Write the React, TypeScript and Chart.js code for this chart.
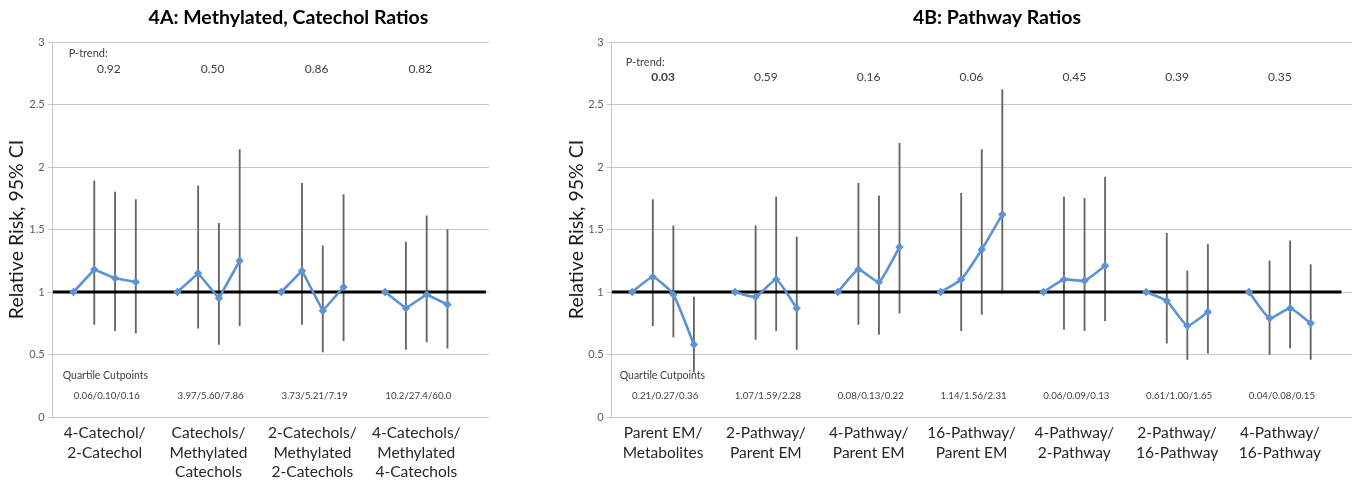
import React, { useEffect, useRef } from "react";
import { Chart, registerables } from "chart.js";

Chart.register(...registerables);

// ---------- DATA ----------
const catsA = [
  ["4-Catechol/", "2-Catechol"],
  ["Catechols/", "Methylated", "Catechols"],
  ["2-Catechols/", "Methylated", "2-Catechols"],
  ["4-Catechols/", "Methylated", "4-Catechols"],
];
const rrA = [1, 1.18, 1.11, 1.08, 1, 1.15, 0.95, 1.25, 1, 1.17, 0.85, 1.04, 1, 0.87, 0.98, 0.9];
const lowA = [null, 0.74, 0.69, 0.67, null, 0.71, 0.58, 0.73, null, 0.74, 0.52, 0.61, null, 0.54, 0.6, 0.55];
const highA = [null, 1.89, 1.8, 1.74, null, 1.85, 1.55, 2.14, null, 1.87, 1.37, 1.78, null, 1.4, 1.61, 1.5];
const pTrendA = ["0.92", "0.50", "0.86", "0.82"];
const pBoldA = [false, false, false, false];
const cutA = ["0.06/0.10/0.16", "3.97/5.60/7.86", "3.73/5.21/7.19", "10.2/27.4/60.0"];

const catsB = [
  ["Parent EM/", "Metabolites"],
  ["2-Pathway/", "Parent EM"],
  ["4-Pathway/", "Parent EM"],
  ["16-Pathway/", "Parent EM"],
  ["4-Pathway/", "2-Pathway"],
  ["2-Pathway/", "16-Pathway"],
  ["4-Pathway/", "16-Pathway"],
];
const rrB = [
  1, 1.12, 0.98, 0.58,
  1, 0.96, 1.1, 0.87,
  1, 1.18, 1.08, 1.36,
  1, 1.1, 1.34, 1.62,
  1, 1.1, 1.09, 1.21,
  1, 0.93, 0.73, 0.84,
  1, 0.79, 0.87, 0.75,
];
const lowB = [
  null, 0.73, 0.64, 0.36,
  null, 0.62, 0.69, 0.54,
  null, 0.74, 0.66, 0.83,
  null, 0.69, 0.82, 0.99,
  null, 0.7, 0.69, 0.77,
  null, 0.59, 0.46, 0.51,
  null, 0.5, 0.55, 0.46,
];
const highB = [
  null, 1.74, 1.53, 0.96,
  null, 1.53, 1.76, 1.44,
  null, 1.87, 1.77, 2.19,
  null, 1.79, 2.14, 2.62,
  null, 1.76, 1.75, 1.92,
  null, 1.47, 1.17, 1.38,
  null, 1.25, 1.41, 1.22,
];
const pTrendB = ["0.03", "0.59", "0.16", "0.06", "0.45", "0.39", "0.35"];
const pBoldB = [true, false, false, false, false, false, false];
const cutB = [
  "0.21/0.27/0.36",
  "1.07/1.59/2.28",
  "0.08/0.13/0.22",
  "1.14/1.56/2.31",
  "0.06/0.09/0.13",
  "0.61/1.00/1.65",
  "0.04/0.08/0.15",
];

const yMin = 0;
const yMax = 3;
const yStep = 0.5;
const refValue = 1;
const pointsPerGroup = 4;
const slotsPerGroup = 5;

const FONT = "Lato, 'Open Sans', 'Liberation Sans', sans-serif";
const BLUE = "#5B93D5";
const GRID = "#c6c6c6";
const CI = "#666666";
const TXT = "#404040";

type Spec = {
  title: string;
  titleX: number;
  cats: string[][];
  rr: number[];
  low: (number | null)[];
  high: (number | null)[];
  pTrend: string[];
  pBold: boolean[];
  cut: string[];
  refEnd: number;
  padLeft: number;
  padRight: number;
  yWidth: number;
  pLabelDX: number;
  pLabelY: number;
  pValY: number;
  pValDX: number;
  qLabelDX: number;
  tension: number;
};

function xOf(i: number) {
  const g = Math.floor(i / pointsPerGroup);
  return g * slotsPerGroup + (i % pointsPerGroup) + 1;
}

function ChartPanel({ spec, left, width }: { spec: Spec; left: number; width: number }) {
  const ref = useRef<HTMLCanvasElement | null>(null);
  useEffect(() => {
    const nGroups = spec.cats.length;
    const xMax = nGroups * slotsPerGroup + 1;
    const linePts: any[] = [];
    spec.rr.forEach((v, i) => {
      linePts.push({ x: xOf(i), y: v });
      if (i % pointsPerGroup === pointsPerGroup - 1 && i < spec.rr.length - 1) {
        linePts.push({ x: xOf(i) + 1, y: null });
      }
    });
    const ciPts: any[] = [];
    spec.low.forEach((lo, i) => {
      const hi = spec.high[i];
      if (lo != null && hi != null) ciPts.push({ x: xOf(i), y: [lo, hi] });
    });
    const refPts = [
      { x: 0, y: refValue },
      { x: spec.refEnd, y: refValue },
    ];

    const textPlugin = {
      id: "annot",
      afterDraw(chart: any) {
        const ctx = chart.ctx;
        const xs = chart.scales.x;
        const ys = chart.scales.y;
        const area = chart.chartArea;
        ctx.save();
        ctx.textBaseline = "middle";
        // title
        ctx.fillStyle = "#000";
        ctx.font = `bold 19.5px ${FONT}`;
        ctx.textAlign = "center";
        ctx.fillText(spec.title, spec.titleX, 17.5);
        // P-trend label
        ctx.fillStyle = TXT;
        ctx.font = `11px ${FONT}`;
        ctx.textAlign = "left";
        ctx.fillText("P-trend:", area.left + spec.pLabelDX, ys.getPixelForValue(spec.pLabelY));
        // P values
        ctx.textAlign = "center";
        spec.pTrend.forEach((p, g) => {
          ctx.font = `${spec.pBold[g] ? "bold " : ""}12px ${FONT}`;
          const cx = xs.getPixelForValue(g * slotsPerGroup + 2.5 + spec.pValDX);
          ctx.fillText(p, cx, ys.getPixelForValue(spec.pValY));
        });
        // Quartile cutpoints
        ctx.font = `10.5px ${FONT}`;
        ctx.textAlign = "left";
        ctx.fillText("Quartile Cutpoints", area.left + spec.qLabelDX, ys.getPixelForValue(0.33));
        ctx.textAlign = "center";
        ctx.font = `9.7px ${FONT}`;
        spec.cut.forEach((c, g) => {
          const cx = xs.getPixelForValue(g * slotsPerGroup + 2.6);
          ctx.fillText(c, cx, ys.getPixelForValue(0.17));
        });
        // category labels
        ctx.fillStyle = "#262626";
        ctx.font = `15.5px ${FONT}`;
        spec.cats.forEach((lines, g) => {
          const cx = xs.getPixelForValue(g * slotsPerGroup + 2.5);
          lines.forEach((ln, k) => {
            ctx.fillText(ln, cx, area.bottom + 16 + k * 19.5);
          });
        });
        ctx.restore();
      },
    };

    const chart = new Chart(ref.current as HTMLCanvasElement, {
      type: "line",
      data: {
        datasets: [
          {
            type: "line",
            data: linePts,
            borderColor: BLUE,
            backgroundColor: BLUE,
            borderWidth: 2.6,
            pointStyle: "rectRot",
            pointRadius: 4.2,
            pointBorderWidth: 0,
            tension: spec.tension,
            spanGaps: false,
            order: 0,
          } as any,
          {
            type: "line",
            data: refPts,
            borderColor: "#000",
            borderWidth: 3,
            pointRadius: 0,
            order: 1,
          } as any,
          {
            type: "bar",
            data: ciPts,
            backgroundColor: CI,
            borderWidth: 0,
            barThickness: 1.2,
            order: 2,
          } as any,
        ],
      },
      options: {
        animation: false,
        responsive: false,
        maintainAspectRatio: false,
        layout: {
          padding: { left: spec.padLeft, right: spec.padRight, top: 42, bottom: 68 },
        },
        plugins: {
          legend: { display: false },
          tooltip: { enabled: false },
          title: { display: false },
        },
        scales: {
          x: {
            type: "linear",
            display: false,
            min: 0,
            max: xMax,
            offset: false,
          },
          y: {
            type: "linear",
            min: yMin,
            max: yMax,
            afterFit: (s: any) => {
              s.width = spec.yWidth;
            },
            ticks: {
              stepSize: yStep,
              color: "#595959",
              font: { family: FONT, size: 11 },
              padding: 3,
              callback: (v: any) => String(Number(v)),
            },
            grid: {
              color: GRID,
              lineWidth: 1,
              tickLength: 5,
            },
            border: { color: GRID, width: 1 },
            title: {
              display: true,
              text: "Relative Risk, 95% CI",
              color: "#1a1a1a",
              font: { family: FONT, size: 19.5 },
              padding: { top: 5, bottom: 0 },
            },
          },
        },
      } as any,
      plugins: [textPlugin],
    });
    return () => chart.destroy();
  }, [spec]);
  return (
    <canvas
      ref={ref}
      width={width}
      height={485}
      style={{ position: "absolute", left, top: 0, width, height: 485 }}
    />
  );
}

const specA: Spec = {
  title: "4A: Methylated, Catechol Ratios",
  titleX: 288.5,
  cats: catsA,
  rr: rrA,
  low: lowA,
  high: highA,
  pTrend: pTrendA,
  pBold: pBoldA,
  cut: cutA,
  refEnd: 20.85,
  padLeft: 0,
  padRight: 51,
  yWidth: 52.7,
  pLabelDX: 16,
  pLabelY: 2.91,
  pValY: 2.78,
  pValDX: 0.2,
  qLabelDX: 10,
  tension: 0,
};

const specB: Spec = {
  title: "4B: Pathway Ratios",
  titleX: 457,
  cats: catsB,
  rr: rrB,
  low: lowB,
  high: highB,
  pTrend: pTrendB,
  pBold: pBoldB,
  cut: cutB,
  refEnd: 35.5,
  padLeft: 19.7,
  padRight: 4,
  yWidth: 52,
  pLabelDX: 14,
  pLabelY: 2.84,
  pValY: 2.72,
  pValDX: 0,
  qLabelDX: 8,
  tension: 0.15,
};

export default function App() {
  return (
    <div style={{ position: "fixed", left: 0, top: 0, width: 1356, height: 485, background: "#fff" }}>
      <ChartPanel spec={specA} left={0} width={540} />
      <ChartPanel spec={specB} left={540} width={816} />
    </div>
  );
}
